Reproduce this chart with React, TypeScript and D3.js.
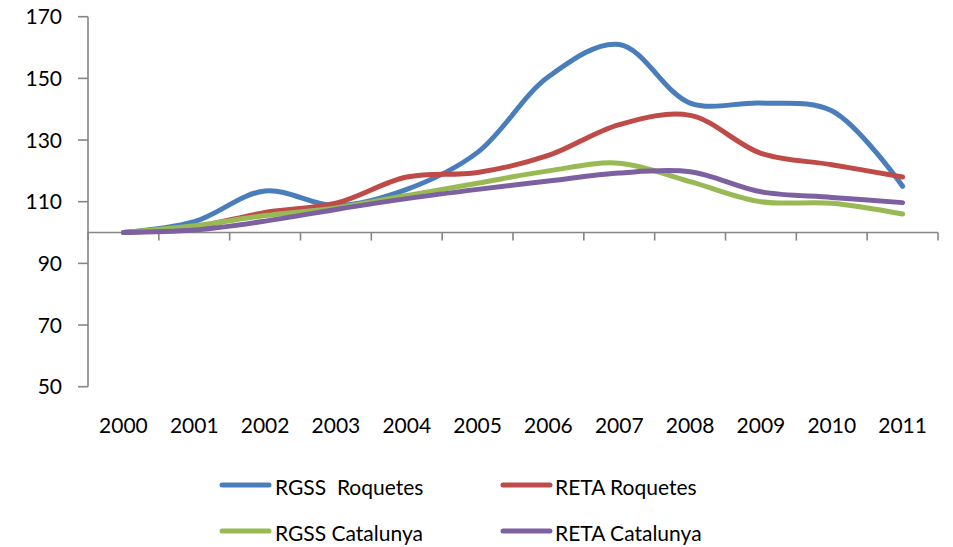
import React from "react";
import * as d3 from "d3";

const years = ["2000","2001","2002","2003","2004","2005","2006","2007","2008","2009","2010","2011"];
const rgssRoquetes = [100, 103.5, 113.5, 108.7, 114, 126, 150.5, 161, 142, 142, 139.5, 115];
const retaRoquetes = [100, 101.8, 106.5, 109.5, 118, 119.5, 125, 135, 138, 125.7, 122, 118];
const rgssCatalunya = [100, 102.2, 105.5, 108, 112, 116, 120, 122.5, 116.5, 110, 109.5, 106];
const retaCatalunya = [100, 100.8, 103.7, 107.5, 111, 114, 116.7, 119.3, 119.7, 113.2, 111.4, 109.7];
const yTicks = [50, 70, 90, 110, 130, 150, 170];

const seriesNames = ["RGSS  Roquetes", "RETA Roquetes", "RGSS Catalunya", "RETA Catalunya"];
const seriesColors = ["#4A7EBB", "#BE4B48", "#98B954", "#7D60A0"];
const seriesValues = [rgssRoquetes, retaRoquetes, rgssCatalunya, retaCatalunya];

export default function App() {
  const W = 953, H = 547;
  const left = 88, right = 938, top = 16.7, bottom = 386.7;
  const x = d3.scaleBand<string>().domain(years).range([left, right]);
  const y = d3.scaleLinear().domain([50, 170]).range([bottom, top]);
  const cx = (yr: string) => (x(yr) as number) + x.bandwidth() / 2;
  const line = d3
    .line<number>()
    .x((_, i) => cx(years[i]))
    .y((v) => y(v))
    .curve(d3.curveCatmullRom.alpha(0.5));
  const axisY = y(100);
  const font = "Lato, 'Open Sans', sans-serif";
  const axisColor = "#868686";
  const legendPos = [
    { lx: 222, tx: 275, ly: 485, ty: 495 },
    { lx: 503, tx: 555, ly: 485, ty: 495 },
    { lx: 222, tx: 275, ly: 531, ty: 541 },
    { lx: 503, tx: 555, ly: 531, ty: 541 },
  ];
  const boundaries = d3.range(years.length + 1).map((i) => left + i * x.step());

  return (
    <svg width={W} height={H} style={{ position: "absolute", left: 0, top: 0, background: "#fff" }}>
      {/* y axis */}
      <line x1={left} x2={left} y1={top} y2={bottom} stroke={axisColor} strokeWidth={1.6} />
      {yTicks.map((t) => (
        <g key={t}>
          <line x1={left - 10} x2={left} y1={y(t)} y2={y(t)} stroke={axisColor} strokeWidth={1.6} />
          <text x={62} y={y(t)} dy="0.36em" textAnchor="end" fontFamily={font} fontSize={21} fill="#000">
            {t}
          </text>
        </g>
      ))}
      {/* x axis at 100 */}
      <line x1={left} x2={right} y1={axisY} y2={axisY} stroke={axisColor} strokeWidth={1.6} />
      {boundaries.map((b, i) => (
        <line key={i} x1={b} x2={b} y1={axisY} y2={axisY + 8} stroke={axisColor} strokeWidth={1.6} />
      ))}
      {years.map((yr) => (
        <text key={yr} x={cx(yr)} y={432.5} textAnchor="middle" fontFamily={font} fontSize={21} fill="#000">
          {yr}
        </text>
      ))}
      {/* series */}
      {seriesValues.map((vals, i) => (
        <path
          key={i}
          d={line(vals) as string}
          fill="none"
          stroke={seriesColors[i]}
          strokeWidth={5}
          strokeLinecap="round"
          strokeLinejoin="round"
        />
      ))}
      {/* legend */}
      {seriesNames.map((n, i) => (
        <g key={n}>
          <line
            x1={legendPos[i].lx}
            x2={legendPos[i].lx + 47}
            y1={legendPos[i].ly}
            y2={legendPos[i].ly}
            stroke={seriesColors[i]}
            strokeWidth={5}
            strokeLinecap="round"
          />
          <text
            x={legendPos[i].tx}
            y={legendPos[i].ty}
            fontFamily={font}
            fontSize={21}
            fill="#000"
            style={{ whiteSpace: "pre" }}
          >
            {n}
          </text>
        </g>
      ))}
    </svg>
  );
}
